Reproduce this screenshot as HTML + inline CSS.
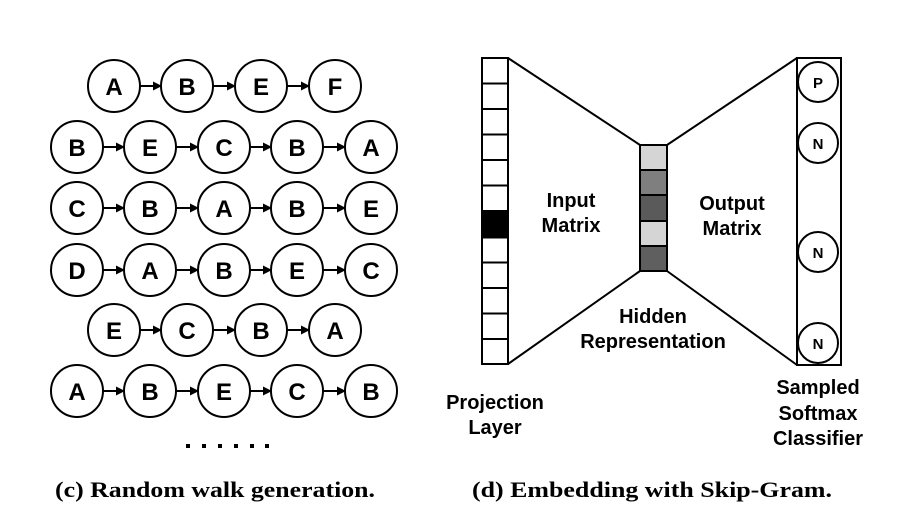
<!DOCTYPE html>
<html><head><meta charset="utf-8"><style>html,body{margin:0;padding:0;background:#fff}svg{display:block}</style></head><body>
<svg width="898" height="512" viewBox="0 0 898 512" xmlns="http://www.w3.org/2000/svg">
<defs>
<marker id="ah" markerWidth="9" markerHeight="9" refX="8" refY="4.5" orient="auto" markerUnits="userSpaceOnUse"><path d="M0,0 L9,4.5 L0,9 z" fill="#000"/></marker>
</defs>
<g fill="#fff" stroke="#000" stroke-width="2">
<circle cx="114" cy="86" r="26"/><circle cx="187" cy="86" r="26"/><circle cx="261" cy="86" r="26"/><circle cx="335" cy="86" r="26"/>
<circle cx="77" cy="147" r="26"/><circle cx="150" cy="147" r="26"/><circle cx="224" cy="147" r="26"/><circle cx="297" cy="147" r="26"/><circle cx="371" cy="147" r="26"/>
<circle cx="77" cy="208" r="26"/><circle cx="150" cy="208" r="26"/><circle cx="224" cy="208" r="26"/><circle cx="297" cy="208" r="26"/><circle cx="371" cy="208" r="26"/>
<circle cx="77" cy="270" r="26"/><circle cx="150" cy="270" r="26"/><circle cx="224" cy="270" r="26"/><circle cx="297" cy="270" r="26"/><circle cx="371" cy="270" r="26"/>
<circle cx="114" cy="330" r="26"/><circle cx="187" cy="330" r="26"/><circle cx="261" cy="330" r="26"/><circle cx="335" cy="330" r="26"/>
<circle cx="77" cy="391" r="26"/><circle cx="150" cy="391" r="26"/><circle cx="224" cy="391" r="26"/><circle cx="297" cy="391" r="26"/><circle cx="371" cy="391" r="26"/>
</g>
<g stroke="#000" stroke-width="2" marker-end="url(#ah)">
<line x1="140" y1="86" x2="161" y2="86"/><line x1="213" y1="86" x2="235" y2="86"/><line x1="287" y1="86" x2="309" y2="86"/>
<line x1="103" y1="147" x2="124" y2="147"/><line x1="176" y1="147" x2="198" y2="147"/><line x1="250" y1="147" x2="271" y2="147"/><line x1="323" y1="147" x2="345" y2="147"/>
<line x1="103" y1="208" x2="124" y2="208"/><line x1="176" y1="208" x2="198" y2="208"/><line x1="250" y1="208" x2="271" y2="208"/><line x1="323" y1="208" x2="345" y2="208"/>
<line x1="103" y1="270" x2="124" y2="270"/><line x1="176" y1="270" x2="198" y2="270"/><line x1="250" y1="270" x2="271" y2="270"/><line x1="323" y1="270" x2="345" y2="270"/>
<line x1="140" y1="330" x2="161" y2="330"/><line x1="213" y1="330" x2="235" y2="330"/><line x1="287" y1="330" x2="309" y2="330"/>
<line x1="103" y1="391" x2="124" y2="391"/><line x1="176" y1="391" x2="198" y2="391"/><line x1="250" y1="391" x2="271" y2="391"/><line x1="323" y1="391" x2="345" y2="391"/>
</g>
<g font-family="Liberation Sans, sans-serif" font-weight="bold" font-size="24" text-anchor="middle">
<text x="114" y="95">A</text><text x="187" y="95">B</text><text x="261" y="95">E</text><text x="335" y="95">F</text>
<text x="77" y="156">B</text><text x="150" y="156">E</text><text x="224" y="156">C</text><text x="297" y="156">B</text><text x="371" y="156">A</text>
<text x="77" y="217">C</text><text x="150" y="217">B</text><text x="224" y="217">A</text><text x="297" y="217">B</text><text x="371" y="217">E</text>
<text x="77" y="279">D</text><text x="150" y="279">A</text><text x="224" y="279">B</text><text x="297" y="279">E</text><text x="371" y="279">C</text>
<text x="114" y="339">E</text><text x="187" y="339">C</text><text x="261" y="339">B</text><text x="335" y="339">A</text>
<text x="77" y="400">A</text><text x="150" y="400">B</text><text x="224" y="400">E</text><text x="297" y="400">C</text><text x="371" y="400">B</text>
</g>
<g fill="#000">
<rect x="186" y="444" width="4" height="4"/><rect x="202" y="444" width="4" height="4"/><rect x="218" y="444" width="4" height="4"/><rect x="234" y="444" width="4" height="4"/><rect x="250" y="444" width="4" height="4"/><rect x="265" y="444" width="4" height="4"/>
</g>
<g stroke="#000" stroke-width="2" fill="none">
<line x1="508" y1="58" x2="640" y2="145"/><line x1="508" y1="364" x2="640" y2="271"/>
<line x1="667" y1="145" x2="797" y2="58"/><line x1="667" y1="271" x2="797" y2="365"/>
</g>
<g stroke="#000" stroke-width="2">
<rect x="482" y="58" width="26" height="306" fill="#fff"/>
<rect x="482" y="212" width="26" height="25.5" fill="#000"/>
<line x1="482" y1="83.5" x2="508" y2="83.5"/><line x1="482" y1="109" x2="508" y2="109"/><line x1="482" y1="134.5" x2="508" y2="134.5"/><line x1="482" y1="160" x2="508" y2="160"/><line x1="482" y1="185.5" x2="508" y2="185.5"/><line x1="482" y1="211" x2="508" y2="211"/><line x1="482" y1="262.5" x2="508" y2="262.5"/><line x1="482" y1="288" x2="508" y2="288"/><line x1="482" y1="313.5" x2="508" y2="313.5"/><line x1="482" y1="339" x2="508" y2="339"/>
<rect x="640" y="145" width="27" height="25" fill="#d5d5d5"/>
<rect x="640" y="170" width="27" height="25" fill="#7f7f7f"/>
<rect x="640" y="195" width="27" height="26" fill="#5a5a5a"/>
<rect x="640" y="221" width="27" height="25" fill="#d5d5d5"/>
<rect x="640" y="246" width="27" height="25" fill="#5f5f5f"/>
<rect x="797" y="58" width="44" height="307" fill="#fff"/>
<circle cx="818" cy="82" r="20" fill="#fff"/><circle cx="818" cy="143" r="20" fill="#fff"/><circle cx="818" cy="252" r="20" fill="#fff"/><circle cx="818" cy="343" r="20" fill="#fff"/>
</g>
<g font-family="Liberation Sans, sans-serif" font-weight="bold" font-size="15" text-anchor="middle">
<text x="818" y="88">P</text><text x="818" y="149">N</text><text x="818" y="258">N</text><text x="818" y="349">N</text>
</g>
<g font-family="Liberation Sans, sans-serif" font-weight="bold" font-size="20" text-anchor="middle">
<text x="571" y="207">Input</text><text x="571" y="232">Matrix</text>
<text x="732" y="210">Output</text><text x="732" y="235">Matrix</text>
<text x="653" y="323">Hidden</text><text x="653" y="348">Representation</text>
<text x="495" y="409">Projection</text><text x="495" y="434">Layer</text>
<text x="818" y="394">Sampled</text><text x="818" y="420">Softmax</text><text x="818" y="445">Classifier</text>
</g>
<g font-family="Liberation Serif, serif" font-weight="bold" font-size="22">
<text x="55" y="497" textLength="320" lengthAdjust="spacingAndGlyphs">(c) Random walk generation.</text>
<text x="472" y="497" textLength="360" lengthAdjust="spacingAndGlyphs">(d) Embedding with Skip-Gram.</text>
</g>
</svg>
</body></html>
